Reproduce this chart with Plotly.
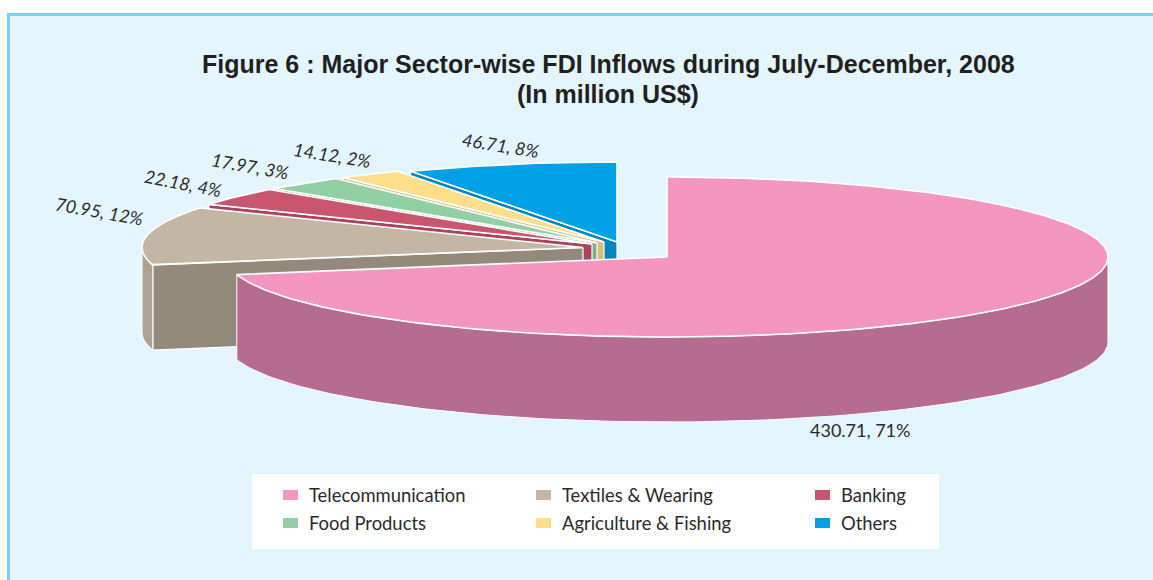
import numpy as np
import plotly.graph_objects as go

# Sector data, in million US$
sectors = ["Telecommunication", "Textiles & Wearing", "Banking",
           "Food Products", "Agriculture & Fishing", "Others"]
inflows = [430.71, 70.95, 22.18, 17.97, 14.12, 46.71]

title_lines = ["Figure 6 : Major Sector-wise FDI Inflows during July-December, 2008", "(In million US$)"]

# Drawing style for the tilted, exploded pie (axes are in pixels, y downward)
W, H = 1153, 580
RX, RY, DEPTH = 441, 80, 85
apex = [(667, 257), (583, 247.5), (592, 244), (597, 243), (604, 242), (617, 242)]
top_col = ["#f497bf", "#c4b6a4", "#c9566f", "#93cfa5", "#fddf8b", "#00a0e4"]
cut_col = ["#b56d8f", "#948a7c", "#a8445f", "#7fae8c", "#d8bf77", "#0585bb"]
rim_col = ["#b56d8f", "#aea393", "#a8445f", "#7fae8c", "#d8bf77", "#0585bb"]
label_pos = [(860, 430, 0), (99, 211, 10), (183, 183, 11), (250, 166, 10), (332, 155, 9), (500, 145, 9)]
legend_pos = [(283, 495), (536, 495), (815, 495), (283, 523), (536, 523), (815, 523)]

total = sum(inflows)
fracs = np.array(inflows) / total
edges = np.concatenate([[0], np.cumsum(fracs)]) * 2 * np.pi


def rim_point(cx, cy, theta):
    # Clockwise from twelve o'clock, on the flattened ellipse
    return cx + RX * np.sin(theta), cy - RY * np.cos(theta)


def poly(xs, ys, fill, line_w=1.2):
    return go.Scatter(x=list(xs), y=list(ys), mode="lines", fill="toself", fillcolor=fill,
                      line=dict(color="white", width=line_w), hoverinfo="skip", showlegend=False)


fig = go.Figure()

# Painted from the back slice round to the front one
for i in [5, 4, 3, 2, 1, 0]:
    cx, cy = apex[i]
    t0, t1 = edges[i], edges[i + 1]

    # Cut face below the leading radial edge
    if i != 0:
        ex, ey = rim_point(cx, cy, t0)
        fig.add_trace(poly([cx, ex, ex, cx, cx], [cy, ey, ey + DEPTH, cy + DEPTH, cy], cut_col[i]))

    # Outer rim, only where it faces the viewer
    lo, hi = max(t0, np.pi / 2), min(t1, 3 * np.pi / 2)
    if i == 0:
        hi = t1
    elif t0 < 3 * np.pi / 2:
        lo, hi = t0, 3 * np.pi / 2
    if hi > lo:
        arc = np.linspace(lo, hi, 120)
        ax, ay = rim_point(cx, cy, arc)
        fig.add_trace(poly(np.r_[ax, ax[::-1], ax[0]], np.r_[ay, ay[::-1] + DEPTH, ay[0]], rim_col[i], 1))

    # Top surface
    arc = np.linspace(t0, t1, 240)
    ax, ay = rim_point(cx, cy, arc)
    fig.add_trace(poly(np.r_[cx, ax, cx], np.r_[cy, ay, cy], top_col[i], 1.6))

# Value labels
for i, (x, y, rot) in enumerate(label_pos):
    label = f"{inflows[i]:.2f}, {round(100 * fracs[i])}%"
    text = label if i == 0 else f"<i>{label}</i>"
    fig.add_annotation(x=x, y=y, text=text, showarrow=False, textangle=rot,
                       font=dict(family="Lato", size=18, color="#2b2a2b"))

# Legend panel
shapes = [
    dict(type="rect", x0=8.5, y0=14.5, x1=W + 10, y1=H + 10, fillcolor="#e4f5fe",
         line=dict(color="#73d2f7", width=3), layer="below"),
    dict(type="rect", x0=252, y0=474, x1=939, y1=549, fillcolor="white",
         line=dict(width=0), layer="below"),
]
for i, (x, y) in enumerate(legend_pos):
    shapes.append(dict(type="rect", x0=x, y0=y - 5, x1=x + 15, y1=y + 5, fillcolor=top_col[i],
                       line=dict(width=0), layer="below"))
    fig.add_annotation(x=x + 23.5, y=y, text=sectors[i], showarrow=False, xanchor="left",
                       font=dict(family="Lato", size=18.4, color="#2b2a2b"))

for line, y in zip(title_lines, (64, 94)):
    fig.add_annotation(x=608, y=y, text=f"<b>{line}</b>", showarrow=False, align="center",
                       font=dict(family="Liberation Sans", size=25, color="#231f20"))

fig.update_layout(
    width=W, height=H, margin=dict(l=0, r=0, t=0, b=0),
    paper_bgcolor="white", plot_bgcolor="rgba(0,0,0,0)", showlegend=False, shapes=shapes,
    xaxis=dict(range=[0, W], visible=False, fixedrange=True),
    yaxis=dict(range=[H, 0], visible=False, fixedrange=True),
)
fig.write_html("out.html", config={"displayModeBar": False})
